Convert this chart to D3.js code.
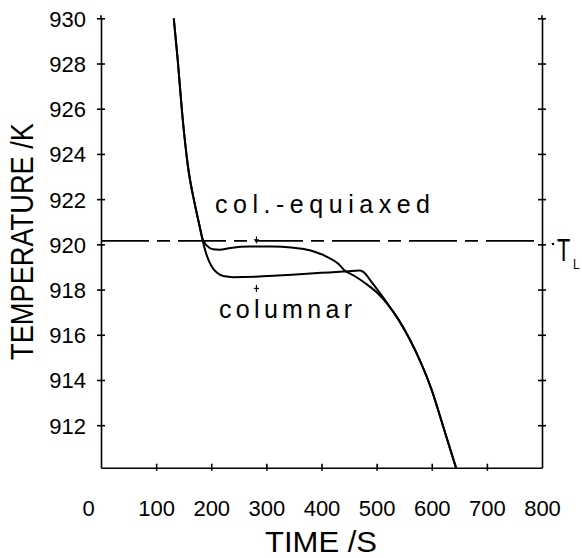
<!DOCTYPE html>
<html>
<head>
<meta charset="utf-8">
<script src="https://cdn.jsdelivr.net/npm/d3@7"></script>
<style>
  html, body { margin: 0; padding: 0; background: #fff; }
  svg { display: block; }
  text { font-family: "Liberation Sans", Arial, sans-serif; fill: #000; }
</style>
</head>
<body>
<svg id="chart" width="582" height="558"></svg>
<script>
// ---------------- data ----------------
const timeTicks = [0, 100, 200, 300, 400, 500, 600, 700, 800];
const tempTicks = [912, 914, 916, 918, 920, 922, 924, 926, 928, 930];
const liquidusTemp = 920.15;

const colEquiaxedTime = [132, 139, 148, 158, 170, 178, 185, 193, 203, 215, 235, 270, 310, 345, 370, 390, 410, 430, 441, 460, 480, 500, 520, 540, 560, 580, 600, 620, 644];
const colEquiaxedTemp = [930, 928.2, 925.6, 923.4, 921.8, 920.9, 920.2, 919.92, 919.78, 919.76, 919.84, 919.9, 919.9, 919.86, 919.78, 919.65, 919.45, 919.15, 918.87, 918.6, 918.27, 917.88, 917.35, 916.66, 915.8, 914.78, 913.55, 912.0, 910.12];

const columnarTime = [132, 139, 148, 158, 170, 178, 185, 192, 200, 210, 222, 240, 280, 320, 360, 400, 440, 470, 477, 490, 505, 515, 527, 540, 560, 580, 600, 620, 644];
const columnarTemp = [930, 928.2, 925.6, 923.4, 921.8, 920.9, 920.1, 919.5, 919.05, 918.75, 918.6, 918.55, 918.57, 918.62, 918.68, 918.74, 918.8, 918.84, 918.76, 918.36, 917.88, 917.55, 917.13, 916.66, 915.8, 914.78, 913.55, 912.0, 910.12];

const markerTime = [282, 282];
const markerTemp = [920.2, 918.05];

// ---------------- scales ----------------
const svg = d3.select("#chart");
const x = d3.scaleLinear().domain([0, 800]).range([101, 542]);
const y = d3.scaleLinear().domain([910.12, 930]).range([467.7, 18.3]);

const axisColor = "#000";

// left axis
const gLeft = svg.append("g").attr("transform", `translate(${x(0)},0)`)
  .call(d3.axisLeft(y).tickValues(tempTicks).tickSizeInner(4).tickSizeOuter(0).tickPadding(11).tickFormat(d3.format("d")));
gLeft.selectAll(".tick line").attr("x1", -4).attr("x2", 4);
gLeft.selectAll("text").attr("font-size", 22).attr("font-family", "Liberation Sans, Arial, sans-serif").attr("dy", "0.36em");

// right axis
const gRight = svg.append("g").attr("transform", `translate(${x(800)},0)`)
  .call(d3.axisRight(y).tickValues(tempTicks).tickSizeInner(4).tickSizeOuter(0).tickFormat(""));
gRight.selectAll(".tick line").attr("x1", -4).attr("x2", 4);

// bottom axis
const gBottom = svg.append("g").attr("transform", `translate(0,${y(910.12)})`)
  .call(d3.axisBottom(x).tickValues(timeTicks).tickSizeInner(4).tickSizeOuter(0).tickPadding(8).tickFormat(d3.format("d")));
gBottom.selectAll(".tick line").attr("y1", -4).attr("y2", 3);
gBottom.selectAll("text").attr("font-size", 22).attr("font-family", "Liberation Sans, Arial, sans-serif")
  .attr("y", 48).attr("dy", 0)
  .attr("dx", d => d === 0 ? -13 : 0);
gBottom.selectAll(".tick line").filter(d => d === 0 || d === 800).remove();

svg.selectAll(".domain").attr("stroke", axisColor).attr("stroke-width", 1.6);
svg.selectAll(".tick line").attr("stroke", axisColor).attr("stroke-width", 1.6);

// extend vertical axes slightly above the 930 tick like the reference
svg.append("line").attr("x1", x(0)).attr("x2", x(0)).attr("y1", y(930) - 3).attr("y2", y(930))
  .attr("stroke", axisColor).attr("stroke-width", 1.6);
svg.append("line").attr("x1", x(800)).attr("x2", x(800)).attr("y1", y(930) - 3).attr("y2", y(930))
  .attr("stroke", axisColor).attr("stroke-width", 1.6);

// liquidus dashed line
svg.append("line")
  .attr("x1", x(0)).attr("x2", x(800))
  .attr("y1", y(liquidusTemp)).attr("y2", y(liquidusTemp))
  .attr("stroke", "#000").attr("stroke-width", 1.8)
  .attr("stroke-dasharray", "48,8,13,8");

// curves
const line = d3.line().x(d => x(d[0])).y(d => y(d[1])).curve(d3.curveMonotoneX);
const colEq = colEquiaxedTime.map((t, i) => [t, colEquiaxedTemp[i]]);
const colum = columnarTime.map((t, i) => [t, columnarTemp[i]]);

svg.append("path").datum(colEq).attr("d", line)
  .attr("fill", "none").attr("stroke", "#000").attr("stroke-width", 2);
svg.append("path").datum(colum).attr("d", line)
  .attr("fill", "none").attr("stroke", "#000").attr("stroke-width", 2);

// small measurement markers
markerTime.forEach((t, i) => {
  const cx = x(t), cy = y(markerTemp[i]);
  svg.append("line").attr("x1", cx).attr("x2", cx).attr("y1", cy - 3.5).attr("y2", cy + 3.5)
    .attr("stroke", "#000").attr("stroke-width", 1.2);
  svg.append("line").attr("x1", cx - 2.5).attr("x2", cx + 2.5).attr("y1", cy).attr("y2", cy)
    .attr("stroke", "#000").attr("stroke-width", 1.2);
});

// curve labels
svg.append("text").attr("x", 215).attr("y", 213).attr("font-size", 25)
  .attr("textLength", 215).attr("lengthAdjust", "spacing").text("col.-equiaxed");
svg.append("text").attr("x", 219).attr("y", 318).attr("font-size", 25)
  .attr("textLength", 133).attr("lengthAdjust", "spacing").text("columnar");

// T_L label
svg.append("circle").attr("cx", 553).attr("cy", y(liquidusTemp) + 3).attr("r", 1.3).attr("fill", "#000");
svg.append("text").attr("transform", "translate(557,261) scale(0.7,1)").attr("font-size", 31).text("T");
svg.append("text").attr("transform", "translate(573,269) scale(0.8,1)").attr("font-size", 15).text("L");

// axis titles
svg.append("text").attr("x", 265).attr("y", 552).attr("font-size", 30)
  .attr("textLength", 112).attr("lengthAdjust", "spacingAndGlyphs").text("TIME /S");
svg.append("text").attr("transform", "translate(33,360) rotate(-90)").attr("font-size", 31)
  .attr("textLength", 237).attr("lengthAdjust", "spacingAndGlyphs").text("TEMPERATURE /K");
</script>
</body>
</html>
